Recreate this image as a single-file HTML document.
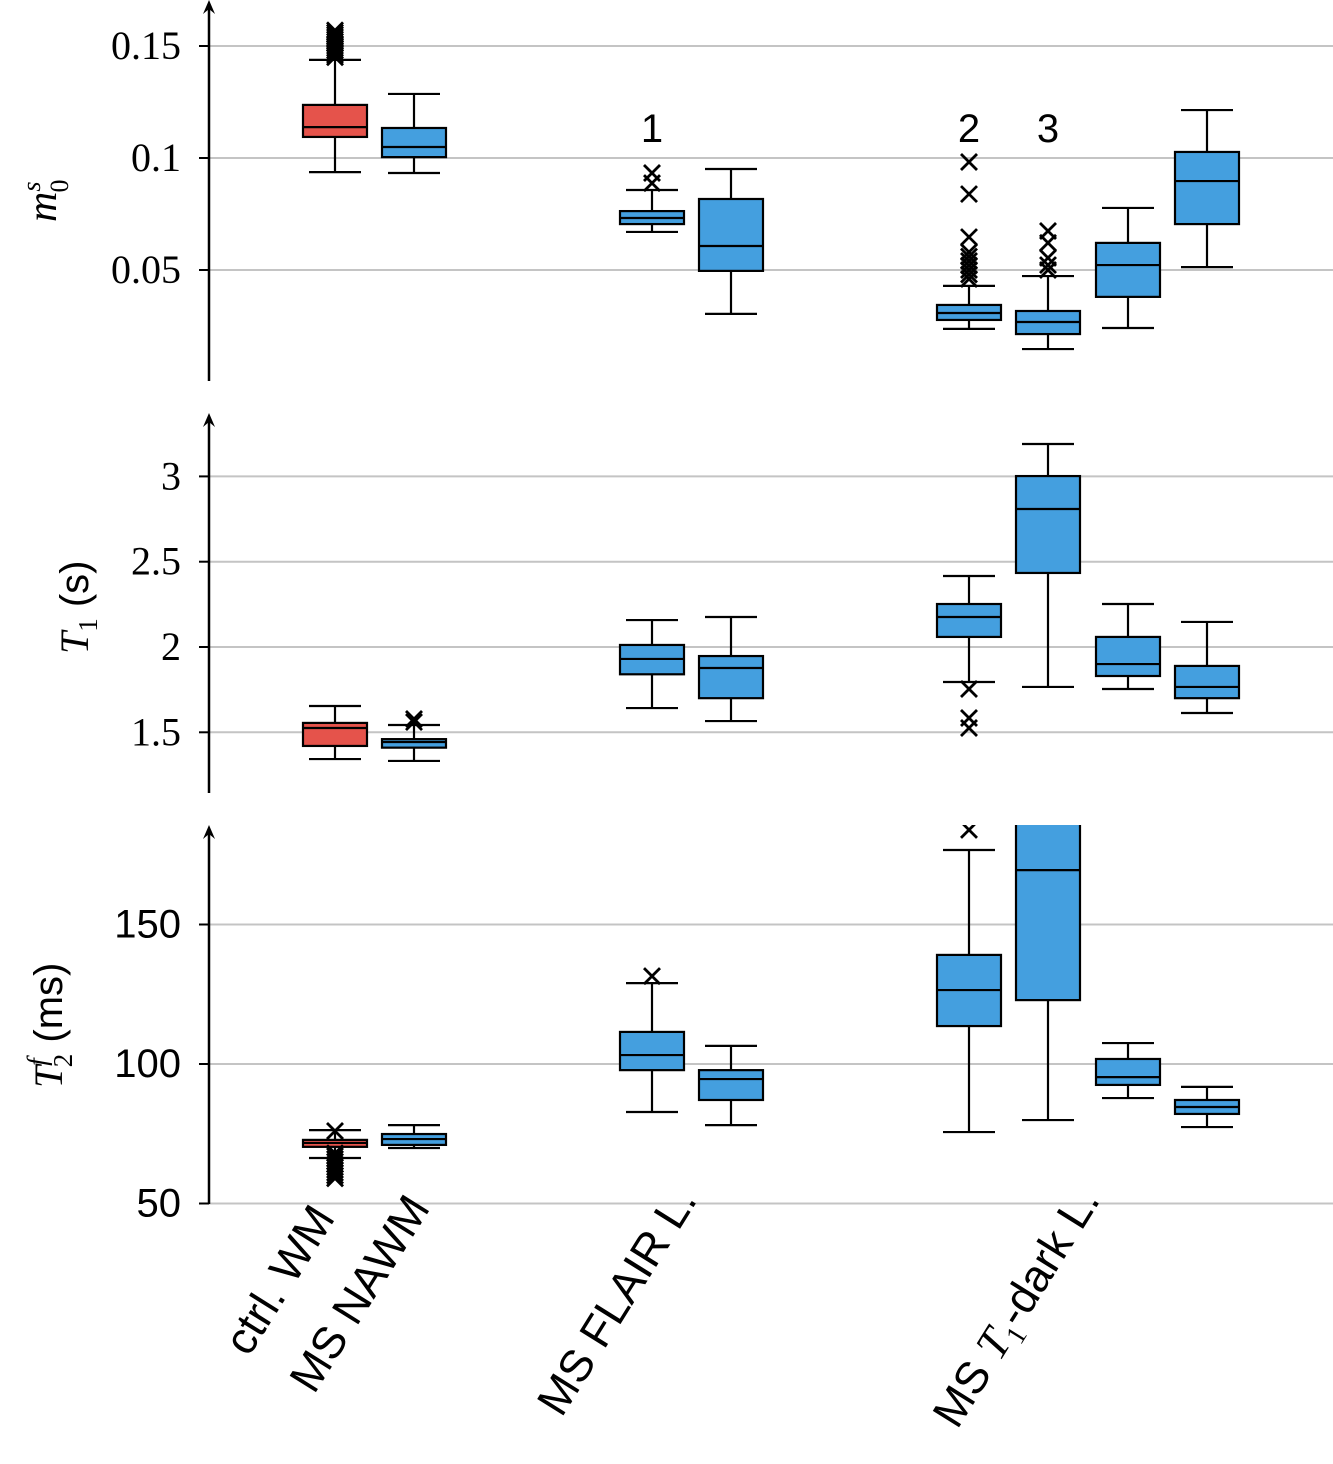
<!DOCTYPE html>
<html><head><meta charset="utf-8"><style>
html,body{margin:0;padding:0;background:#fff;}
svg{display:block;font-family:"Liberation Sans",sans-serif;}
</style></head><body>
<svg id="chart" width="1333" height="1464" viewBox="0 0 1333 1464" xmlns="http://www.w3.org/2000/svg">
<defs><clipPath id="c3"><rect x="200" y="825" width="1133" height="400"/></clipPath></defs>
</svg>
<script>
const categories=["ctrl. WM","MS NAWM","MS FLAIR L.","MS FLAIR L. 2","MS T1-dark 2","MS T1-dark 3","MS T1-dark A","MS T1-dark B"];
const colors=["#e5534b","#449fdf","#449fdf","#449fdf","#449fdf","#449fdf","#449fdf","#449fdf"];
const xCenters=[335,414,652,731,969,1048,1128,1207];
// [low whisker, q1, median, q3, high whisker]
const m0Stats=[[0.0937,0.1094,0.1138,0.1237,0.1438],[0.0933,0.1004,0.1049,0.1134,0.1286],[0.067,0.0705,0.0732,0.0763,0.0857],[0.0304,0.0496,0.0607,0.0817,0.0951],[0.0237,0.0277,0.0308,0.0344,0.0429],[0.0147,0.0214,0.0268,0.0317,0.0473],[0.0241,0.038,0.0522,0.0621,0.0777],[0.0513,0.0705,0.0897,0.1027,0.1214]];
const m0Out=[[0.145,0.146,0.147,0.148,0.149,0.15,0.151,0.152,0.153,0.154,0.155,0.156,0.157],[],[0.0888,0.0933],[],[0.0982,0.0839,0.0647,0.058,0.056,0.054,0.052,0.05,0.048,0.046],[0.0674,0.0621,0.0554,0.0522,0.05],[],[]];
const t1Stats=[[1.343,1.42,1.525,1.555,1.654],[1.332,1.41,1.443,1.46,1.543],[1.642,1.84,1.93,2.012,2.158],[1.566,1.70,1.877,1.947,2.176],[1.795,2.059,2.176,2.252,2.416],[1.766,2.434,2.809,3.002,3.19],[1.754,1.83,1.9,2.059,2.252],[1.613,1.70,1.766,1.889,2.147]];
const t1Out=[[],[1.56,1.578],[],[],[1.754,1.584,1.525],[],[],[]];
const t2Stats=[[66.3,70.3,71.7,72.8,76.3],[69.9,71,73.1,74.9,78.1],[82.8,97.8,103.2,111.5,129],[78.1,87.1,94.6,97.8,106.5],[75.6,113.6,126.5,139.1,176.7],[79.9,122.9,169.5,200,230],[87.8,92.5,95.3,101.8,107.5],[77.4,82.1,84.6,87.1,91.8]];
const t2Out=[[76,59,60,61,62,63,64,65,66,67,68],[],[131.5],[],[183.9],[],[],[]];
const m0Ticks=[0.05,0.1,0.15], m0Labels=["0.05","0.1","0.15"];
const t1Ticks=[1.5,2,2.5,3], t1Labels=["1.5","2","2.5","3"];
const t2Ticks=[50,100,150], t2Labels=["50","100","150"];

const NS="http://www.w3.org/2000/svg", svg=document.getElementById('chart');
function el(t,a,p){const e=document.createElementNS(NS,t);for(const k in a)e.setAttribute(k,a[k]);(p||svg).appendChild(e);return e;}
const y1=v=>158-(v-0.1)*2240;
const y2=v=>647-(v-2)*170.6;
const y3=v=>1064-(v-100)*2.79;

function panel(name,yf,top,bottom,ticks,labels,stats,outs,serif,clip){
  const g=el('g',{});
  
  
  ticks.forEach((t,i)=>{
    const gl=el('line',{x1:209,x2:1333,y1:yf(t),y2:yf(t),stroke:'#c4c4c4','stroke-width':2},g);
    
    
    el('line',{x1:199,x2:209,y1:yf(t),y2:yf(t),stroke:'#000','stroke-width':2},g);
    const tx=el('text',{x:181,y:yf(t)+13,'text-anchor':'end','font-size':serif?40:40,'font-family':serif?'"Liberation Serif",serif':'"Liberation Sans",sans-serif'},g);
    tx.textContent=labels[i];
    
    
  });
  const ax=el('line',{x1:209,x2:209,y1:top+6,y2:bottom,stroke:'#000','stroke-width':2.5},g);
  
  
  el('path',{d:`M203 ${top+14} L209 ${top} L215 ${top+14} L209 ${top+9} Z`,fill:'#000'},g);
  const bg=el('g',clip?{'clip-path':'url(#c3)'}:{},g);
  stats.forEach((s,i)=>{
    const x=xCenters[i];
    const b=el('g',{},bg);
    
    
    const st={stroke:'#000','stroke-width':2.2,fill:'none'};
    el('line',Object.assign({x1:x,x2:x,y1:yf(s[0]),y2:yf(s[1])},st),b);
    el('line',Object.assign({x1:x,x2:x,y1:yf(s[3]),y2:yf(s[4])},st),b);
    el('line',Object.assign({x1:x-26,x2:x+26,y1:yf(s[0]),y2:yf(s[0])},st),b);
    el('line',Object.assign({x1:x-26,x2:x+26,y1:yf(s[4]),y2:yf(s[4])},st),b);
    el('rect',{x:x-32,y:yf(s[3]),width:64,height:yf(s[1])-yf(s[3]),fill:colors[i],stroke:'#000','stroke-width':2.2},b);
    el('line',Object.assign({x1:x-32,x2:x+32,y1:yf(s[2]),y2:yf(s[2])},st),b);
    outs[i].forEach(o=>{
      const oy=yf(o);
      el('path',{d:`M${x-8} ${oy-8}L${x+8} ${oy+8}M${x-8} ${oy+8}L${x+8} ${oy-8}`,stroke:'#000','stroke-width':2.8},b);
    });
  });
}
panel('m0',y1,0,381,m0Ticks,m0Labels,m0Stats,m0Out,true,false);
panel('t1',y2,413,793,t1Ticks,t1Labels,t1Stats,t1Out,true,false);
panel('t2',y3,825,1204,t2Ticks,t2Labels,t2Stats,t2Out,false,true);

function txt(s,a,name){const t=el('text',a);t.innerHTML=s;return t;}
txt('1',{x:652,y:142,'text-anchor':'middle','font-size':40},'annotation-1');
txt('2',{x:969,y:142,'text-anchor':'middle','font-size':40},'annotation-2');
txt('3',{x:1048,y:142,'text-anchor':'middle','font-size':40},'annotation-3');
txt('<tspan font-family="Liberation Serif,serif" font-style="italic">m</tspan><tspan font-family="Liberation Serif,serif" font-style="italic" font-size="26" dy="-16">s</tspan><tspan font-family="Liberation Serif,serif" font-size="26" dx="-11" dy="28">0</tspan>',{transform:'translate(56,222) rotate(-90)','font-size':42},'m0-y-axis-title');
txt('<tspan font-family="Liberation Serif,serif" font-style="italic">T</tspan><tspan font-family="Liberation Serif,serif" font-size="27" dy="9">1</tspan><tspan dy="-9"> (s)</tspan>',{transform:'translate(88,654) rotate(-90)','font-size':40},'t1-y-axis-title');
txt('<tspan font-family="Liberation Serif,serif" font-style="italic">T</tspan><tspan font-family="Liberation Serif,serif" font-style="italic" font-size="27" dy="-16">f</tspan><tspan font-family="Liberation Serif,serif" font-size="27" dx="-9" dy="26">2</tspan><tspan dy="-10"> (ms)</tspan>',{transform:'translate(62,1088) rotate(-90)','font-size':40},'t2-y-axis-title');
const xl=[["ctrl. WM",336,1218],["MS NAWM",431,1208],["MS FLAIR L.",698,1200],["MS <tspan font-family=\"Liberation Serif,serif\" font-style=\"italic\">T</tspan><tspan font-family=\"Liberation Serif,serif\" font-size=\"28\" dy=\"9\">1</tspan><tspan dy=\"-9\">-dark L.</tspan>",1101,1200]];
xl.forEach((l,i)=>txt(l[0],{transform:`translate(${l[1]},${l[2]}) rotate(-58)`,'text-anchor':'end','font-size':45},'x-category-label-'+i));
</script>
</body></html>
